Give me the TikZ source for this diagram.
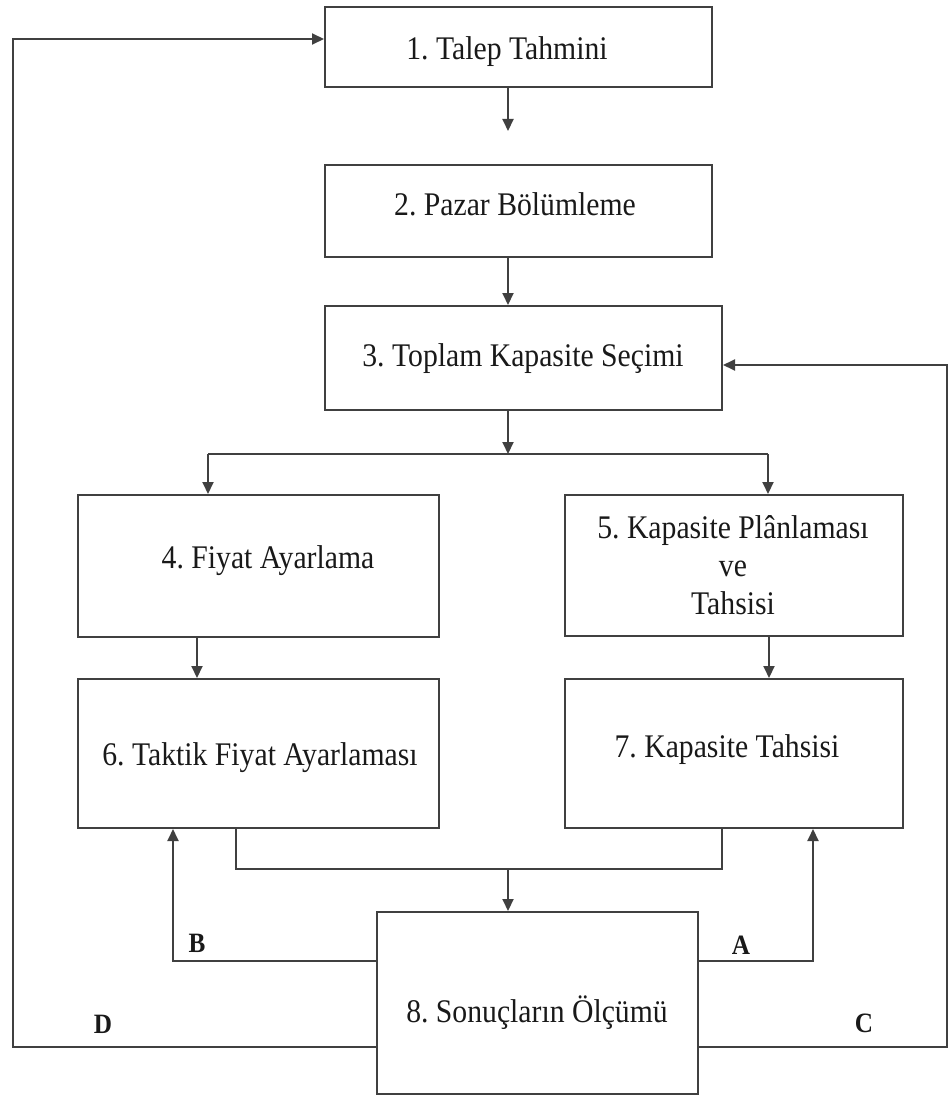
\documentclass[tikz,border=0pt]{standalone}
\usepackage{fontspec}
\setmainfont{Liberation Serif}[FakeStretch=0.9]
\usetikzlibrary{arrows.meta}

\tikzset{
  x=1pt, y=-1pt,
  box/.style={draw=black!75, line width=2pt, rectangle, inner sep=0pt},
  wire/.style={draw=black!75, line width=2pt},
  arr/.style={wire, -{Triangle[length=12pt,width=11pt]}},
  boxtext/.style={anchor=base, inner sep=0pt, font=\fontsize{33}{38}\selectfont, text=black!90},
  tag/.style={anchor=center, inner sep=0pt, font=\fontsize{28}{30}\selectfont\bfseries, text=black!90},
}

% a box from its corners: name, left, top, right, bottom
\newcommand{\flowbox}[5]{%
  \node[box, minimum width={#4-#2}, minimum height={#5-#3}]
    (#1) at ({(#2+#4)/2},{(#3+#5)/2}) {};}

\begin{document}
\frenchspacing
\begin{tikzpicture}
\useasboundingbox (0,0) rectangle (949,1097);

% boxes
\flowbox{b1}{325}{7}{712}{87}
\flowbox{b2}{325}{165}{712}{257}
\flowbox{b3}{325}{306}{722}{410}
\flowbox{b4}{78}{495}{439}{637}
\flowbox{b5}{565}{495}{903}{636}
\flowbox{b6}{78}{679}{439}{828}
\flowbox{b7}{565}{679}{903}{828}
\flowbox{b8}{377}{912}{698}{1094}

% box texts (multi-line text sits on the baseline of its last line)
\node[boxtext] (l1) at (507,60)  {1. Talep Tahmini};
\node[boxtext] (l2) at (515,215) {2. Pazar Bölümleme};
\node[boxtext] (l3) at (523,366) {3. Toplam Kapasite Seçimi};
\node[boxtext] (l4) at (268,568) {4. Fiyat Ayarlama};
\node[boxtext, align=center] (l5) at (733,614) {5. Kapasite Plânlaması\\ve\\Tahsisi};
\node[boxtext] (l6) at (260,765) {6. Taktik Fiyat Ayarlaması};
\node[boxtext] (l7) at (727,757) {7. Kapasite Tahsisi};
\node[boxtext] (l8) at (537,1022) {8. Sonuçların Ölçümü};

% routing points
\coordinate (spine) at (508,0);
\coordinate (split) at (508,454);
\coordinate (splitL) at (208,454);
\coordinate (splitR) at (768,454);
\coordinate (col4) at (197,0);
\coordinate (col5) at (769,0);
\coordinate (mergeL) at (236,869);
\coordinate (mergeR) at (722,869);
\coordinate (merge) at (508,869);
\coordinate (colB) at (173,961);
\coordinate (colA) at (813,961);
\coordinate (colD) at (13,1047);
\coordinate (colC) at (946.5,1047);
\coordinate (rowD) at (0,39);
\coordinate (rowC) at (0,365);

% main flow
\draw[arr, shorten >=33pt] (b1.south -| spine) -- (b2.north -| spine);
\draw[arr] (b2.south -| spine) -- (b3.north -| spine);
\draw[arr] (b3.south -| spine) -- (split);
\draw[wire] (splitL) -- (splitR);
\draw[arr] (splitL) -- (splitL |- b4.north);
\draw[arr] (splitR) -- (splitR |- b5.north);
\draw[arr] (b4.south -| col4) -- (b6.north -| col4);
\draw[arr] (b5.south -| col5) -- (b7.north -| col5);

% merge into the measurement box
\draw[wire] (b6.south -| mergeL) -- (mergeL) -- (mergeR) -- (b7.south -| mergeR);
\draw[arr] (merge) -- (b8.north -| merge);

% feedback loops
\draw[arr] (b8.west |- colB) -- (colB) -- (b6.south -| colB);
\draw[arr] (b8.east |- colA) -- (colA) -- (b7.south -| colA);
\draw[arr] (b8.west |- colD) -- (colD) -- (colD |- rowD) -- (b1.west |- rowD);
\draw[arr] (b8.east |- colC) -- (colC) -- (colC |- rowC) -- (b3.east |- rowC);

% loop labels
\node[tag] (tB) at (197,943) {B};
\node[tag] (tA) at (741,945) {A};
\node[tag] (tD) at (103,1024) {D};
\node[tag] (tC) at (864,1023) {C};
\end{tikzpicture}
\end{document}
